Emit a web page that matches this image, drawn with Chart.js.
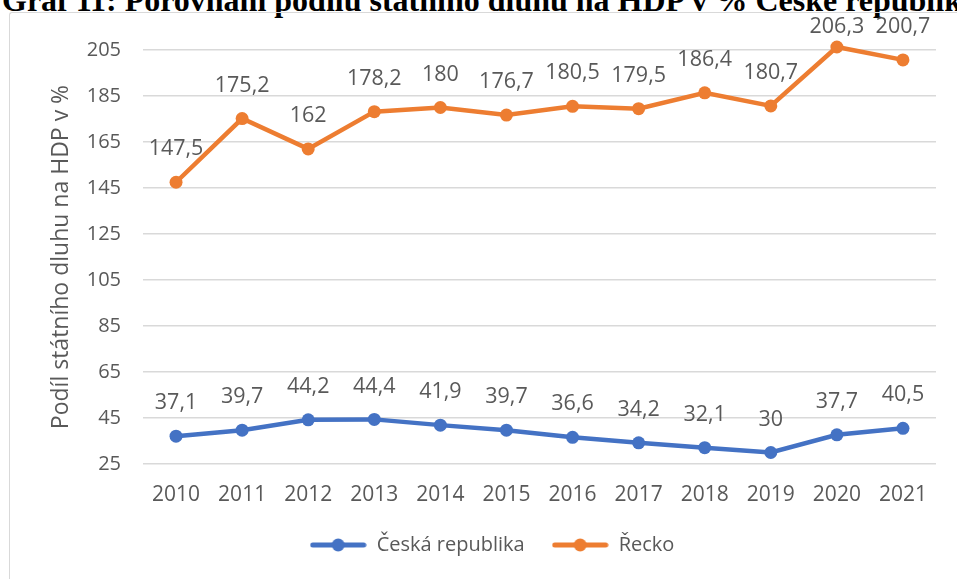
<!DOCTYPE html>
<html>
<head>
<meta charset="utf-8">
<script src="https://cdn.jsdelivr.net/npm/chart.js@4"></script>
<style>
  html, body { margin: 0; padding: 0; background: #fff; overflow: hidden; }
  #wrap { position: relative; width: 957px; height: 579px; }
  #title {
    position: absolute; left: 2px; top: -16px; white-space: nowrap;
    font: bold 32px "Liberation Serif", "Times New Roman", serif; line-height: 32px; color: #000;
  }
  #frame {
    position: absolute; left: 9px; top: 12px; width: 960px; height: 580px;
    border-left: 1px solid #d9d9d9; border-top: 1px solid #d9d9d9; border-top-left-radius: 3px;
  }
  #chart { position: absolute; left: 0; top: 0; }
</style>
</head>
<body>
<div id="wrap">
  <div id="title">Graf 11: Porovnání podílu státního dluhu na HDP v % České republiky a Řecka</div>
  <div id="frame"></div>
  <canvas id="chart" width="957" height="579"></canvas>
</div>
<script>
const years = ['2010', '2011', '2012', '2013', '2014', '2015', '2016', '2017', '2018', '2019', '2020', '2021'];
const czech = [37.1, 39.7, 44.2, 44.4, 41.9, 39.7, 36.6, 34.2, 32.1, 30, 37.7, 40.5];
const greece = [147.5, 175.2, 162, 178.2, 180, 176.7, 180.5, 179.5, 186.4, 180.7, 206.3, 200.7];
const yTicks = [25, 45, 65, 85, 105, 125, 145, 165, 185, 205];

const COLORS = {
  blue: '#4472c4',
  orange: '#ed7d31',
  text: '#595959',
  grid: '#d9d9d9',
};
const FONT = '"Open Sans", "Liberation Sans", sans-serif';

// legend marker: short thick line with a dot in the middle
function legendMarker(color) {
  const c = document.createElement('canvas');
  c.width = 57; c.height = 14;
  const g = c.getContext('2d');
  g.strokeStyle = color;
  g.lineWidth = 5;
  g.lineCap = 'round';
  g.beginPath(); g.moveTo(3, 7); g.lineTo(54, 7); g.stroke();
  g.fillStyle = color;
  g.beginPath(); g.arc(28.5, 7, 6.5, 0, Math.PI * 2); g.fill();
  return c;
}

const fmt = v => String(v).replace('.', ',');

// value labels above each point (kept inside the top of the chart)
const pointLabels = {
  id: 'pointLabels',
  afterDatasetsDraw(chart) {
    const ctx = chart.ctx;
    ctx.save();
    ctx.font = '21.5px ' + FONT;
    ctx.fillStyle = COLORS.text;
    ctx.textAlign = 'center';
    ctx.textBaseline = 'middle';
    chart.data.datasets.forEach((ds, i) => {
      chart.getDatasetMeta(i).data.forEach((pt, j) => {
        const y = Math.max(pt.y - 33, 27);
        ctx.fillText(fmt(ds.data[j]), pt.x, y);
      });
    });
    ctx.restore();
  },
};

const lineStyle = color => ({
  borderColor: color,
  backgroundColor: color,
  borderWidth: 4.5,
  pointRadius: 6.5,
  pointBorderWidth: 0,
  pointBackgroundColor: color,
  tension: 0,
  clip: false,
});

new Chart(document.getElementById('chart'), {
  type: 'line',
  data: {
    labels: years,
    datasets: [
      { label: 'Česká republika', data: czech, ...lineStyle(COLORS.blue) },
      { label: 'Řecko', data: greece, ...lineStyle(COLORS.orange) },
    ],
  },
  options: {
    responsive: false,
    animation: false,
    layout: { padding: { top: 50, right: 21, bottom: 14, left: 48 } },
    plugins: {
      legend: {
        position: 'bottom',
        labels: {
          color: COLORS.text,
          font: { family: FONT, size: 20 },
          usePointStyle: true,
          pointStyleWidth: 57,
          padding: 27,
          generateLabels: chart => chart.data.datasets.map((ds, i) => ({
            text: ds.label,
            fontColor: COLORS.text,
            pointStyle: legendMarker(ds.borderColor),
            lineWidth: 0,
            datasetIndex: i,
            hidden: false,
          })),
        },
      },
      tooltip: { enabled: false },
    },
    scales: {
      x: {
        offset: true,
        grid: { display: false, drawTicks: false },
        border: { display: false },
        ticks: { color: COLORS.text, font: { family: FONT, size: 21 }, padding: 18, maxRotation: 0 },
        afterFit: s => { s.height = 44; },
      },
      y: {
        min: 25,
        max: 205,
        afterBuildTicks: s => { s.ticks = yTicks.map(v => ({ value: v })); },
        grid: { color: COLORS.grid, lineWidth: 1.5, drawTicks: false },
        border: { display: false },
        ticks: { color: COLORS.text, font: { family: FONT, size: 20 }, padding: 22 },
        title: {
          display: true,
          text: 'Podíl státního dluhu na HDP v %',
          color: COLORS.text,
          font: { family: FONT, size: 23, weight: 'normal' },
          padding: { top: 0, bottom: 0 },
        },
        afterFit: s => { s.width = 95; },
      },
    },
  },
  plugins: [pointLabels],
});
</script>
</body>
</html>
